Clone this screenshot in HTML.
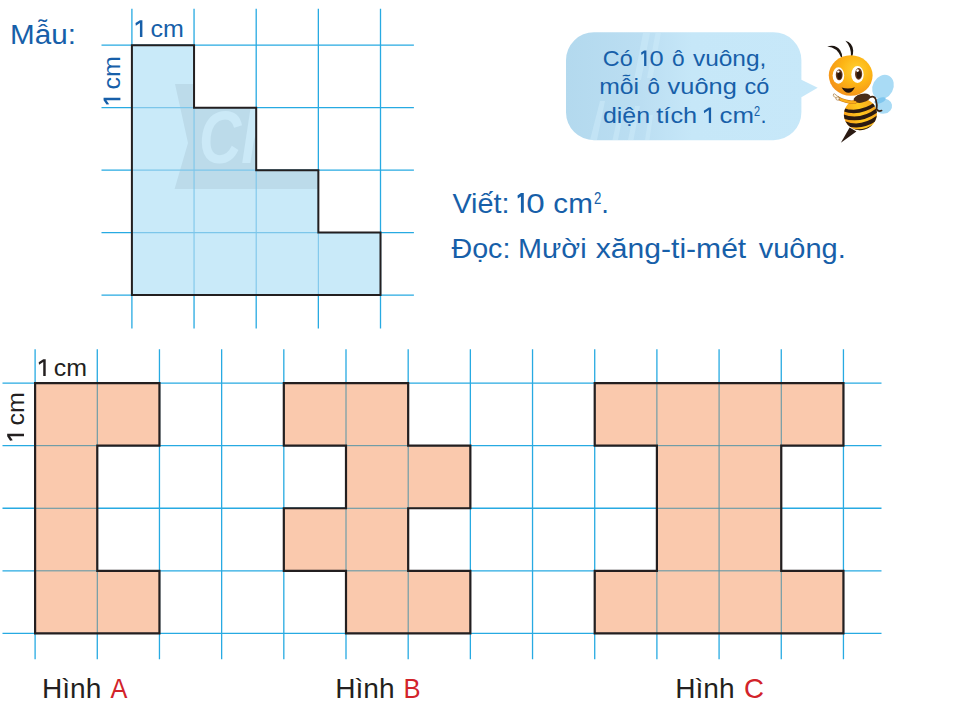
<!DOCTYPE html>
<html lang="vi"><head><meta charset="utf-8"><title>Hinh</title>
<style>html,body{margin:0;padding:0;background:#fff}body{width:960px;height:711px;overflow:hidden}svg{display:block}text{font-family:"Liberation Sans",sans-serif}</style></head><body>
<svg width="960" height="711" viewBox="0 0 960 711">
<defs>
<clipPath id="cs"><polygon points="131.9,45.2 194.05,45.2 194.05,107.67 256.2,107.67 256.2,170.14 318.35,170.14 318.35,232.61 380.5,232.61 380.5,295.08 131.9,295.08"/></clipPath>
<clipPath id="co"><polygon points="35.1,383.1 159.46,383.1 159.46,445.68 97.28,445.68 97.28,570.84 159.46,570.84 159.46,633.42 35.1,633.42"/><polygon points="283.82,383.1 408.18,383.1 408.18,445.68 470.36,445.68 470.36,508.26 408.18,508.26 408.18,570.84 470.36,570.84 470.36,633.42 346,633.42 346,570.84 283.82,570.84 283.82,508.26 346,508.26 346,445.68 283.82,445.68"/><polygon points="594.72,383.1 843.44,383.1 843.44,445.68 781.26,445.68 781.26,570.84 843.44,570.84 843.44,633.42 594.72,633.42 594.72,570.84 656.9,570.84 656.9,445.68 594.72,445.68"/></clipPath>
</defs>
<rect width="960" height="711" fill="#fff"/>
<path d="M131.9 8.8V328.5M194.05 8.8V328.5M256.2 8.8V328.5M318.35 8.8V328.5M380.5 8.8V328.5M101.5 45.2H413.9M101.5 107.67H413.9M101.5 170.14H413.9M101.5 232.61H413.9M101.5 295.08H413.9" stroke="#27aae2" stroke-width="1.3" fill="none"/>
<polygon points="131.9,45.2 194.05,45.2 194.05,107.67 256.2,107.67 256.2,170.14 318.35,170.14 318.35,232.61 380.5,232.61 380.5,295.08 131.9,295.08" fill="#c9eaf9"/>
<g clip-path="url(#cs)">
<path d="M175 84H400V189H174.6L188 143Z" fill="#bcdbea"/>
<text x="199" y="163" font-size="74" font-style="italic" font-weight="bold" fill="#cbe9f7" textLength="78" lengthAdjust="spacingAndGlyphs">Ch</text>

<path d="M131.9 8.8V328.5M194.05 8.8V328.5M256.2 8.8V328.5M318.35 8.8V328.5M380.5 8.8V328.5M101.5 45.2H413.9M101.5 107.67H413.9M101.5 170.14H413.9M101.5 232.61H413.9M101.5 295.08H413.9" stroke="#7cc6ea" stroke-width="1.1" fill="none"/>
</g>
<polygon points="131.9,45.2 194.05,45.2 194.05,107.67 256.2,107.67 256.2,170.14 318.35,170.14 318.35,232.61 380.5,232.61 380.5,295.08 131.9,295.08" fill="none" stroke="#231f20" stroke-width="2" stroke-linejoin="miter"/>
<path d="M35.1 349.3V659.2M97.28 349.3V659.2M159.46 349.3V659.2M221.64 349.3V659.2M283.82 349.3V659.2M346 349.3V659.2M408.18 349.3V659.2M470.36 349.3V659.2M532.54 349.3V659.2M594.72 349.3V659.2M656.9 349.3V659.2M719.08 349.3V659.2M781.26 349.3V659.2M843.44 349.3V659.2M2.5 383.1H881.5M2.5 445.68H881.5M2.5 508.26H881.5M2.5 570.84H881.5M2.5 633.42H881.5" stroke="#27aae2" stroke-width="1.3" fill="none"/>
<polygon points="35.1,383.1 159.46,383.1 159.46,445.68 97.28,445.68 97.28,570.84 159.46,570.84 159.46,633.42 35.1,633.42" fill="#fac9ad"/>
<polygon points="283.82,383.1 408.18,383.1 408.18,445.68 470.36,445.68 470.36,508.26 408.18,508.26 408.18,570.84 470.36,570.84 470.36,633.42 346,633.42 346,570.84 283.82,570.84 283.82,508.26 346,508.26 346,445.68 283.82,445.68" fill="#fac9ad"/>
<polygon points="594.72,383.1 843.44,383.1 843.44,445.68 781.26,445.68 781.26,570.84 843.44,570.84 843.44,633.42 594.72,633.42 594.72,570.84 656.9,570.84 656.9,445.68 594.72,445.68" fill="#fac9ad"/>
<g clip-path="url(#co)">
<path d="M35.1 349.3V659.2M97.28 349.3V659.2M159.46 349.3V659.2M221.64 349.3V659.2M283.82 349.3V659.2M346 349.3V659.2M408.18 349.3V659.2M470.36 349.3V659.2M532.54 349.3V659.2M594.72 349.3V659.2M656.9 349.3V659.2M719.08 349.3V659.2M781.26 349.3V659.2M843.44 349.3V659.2M2.5 383.1H881.5M2.5 445.68H881.5M2.5 508.26H881.5M2.5 570.84H881.5M2.5 633.42H881.5" stroke="#5494a6" stroke-width="1.0" fill="none"/>
</g>
<polygon points="35.1,383.1 159.46,383.1 159.46,445.68 97.28,445.68 97.28,570.84 159.46,570.84 159.46,633.42 35.1,633.42" fill="none" stroke="#231f20" stroke-width="2.2" stroke-linejoin="miter"/>
<polygon points="283.82,383.1 408.18,383.1 408.18,445.68 470.36,445.68 470.36,508.26 408.18,508.26 408.18,570.84 470.36,570.84 470.36,633.42 346,633.42 346,570.84 283.82,570.84 283.82,508.26 346,508.26 346,445.68 283.82,445.68" fill="none" stroke="#231f20" stroke-width="2.2" stroke-linejoin="miter"/>
<polygon points="594.72,383.1 843.44,383.1 843.44,445.68 781.26,445.68 781.26,570.84 843.44,570.84 843.44,633.42 594.72,633.42 594.72,570.84 656.9,570.84 656.9,445.68 594.72,445.68" fill="none" stroke="#231f20" stroke-width="2.2" stroke-linejoin="miter"/>
<defs><linearGradient id="gbub" x1="0" y1="0" x2="1" y2="0"><stop offset="0" stop-color="#b3d9ee"/><stop offset="0.3" stop-color="#bbdef2"/><stop offset="0.5" stop-color="#c6e7f8"/><stop offset="1" stop-color="#c7e8f9"/></linearGradient></defs>
<path d="M594 32.2H773.4a28 28 0 0 1 28 28V79.8L817.7 87.7L801.4 97.3V112.2a28 28 0 0 1 -28 28H594a28 28 0 0 1 -28 -28V60.2a28 28 0 0 1 28 -28Z" fill="url(#gbub)"/>
<g fill="#cdebfa" opacity="0.55">
<path d="M643 33H650L641 80H634Z"/>
<path d="M655.5 33H661L652.5 78H647Z"/>
<path d="M600 101H605L597 140H590Z"/>
<path d="M618 115H623L618 140H612.5Z"/>
<path d="M635 106H640L633.5 140H628Z"/>
<path d="M649 115H653L649.5 140H645Z"/>
</g>

<text transform="translate(12.10 44.2) scale(1.059 1)" x="-2.00" y="0" font-size="28" fill="#175fa9">Mẫu:</text>
<path d="M142.40 20.17V37.00H139.93V23.01L135.85 25.76L135.50 23.12L139.93 20.17Z" fill="#175fa9"/>
<text transform="translate(151.50 37.0) scale(1.066 1)" x="-1.00" y="0" font-size="23.5" fill="#175fa9">cm</text>
<text transform="translate(452.40 212.8) scale(1.047 1)" x="0.00" y="0" font-size="27.5" fill="#175fa9">Viết:</text>
<path d="M523.80 193.11V212.80H520.91V196.43L517.85 198.55L517.50 195.43L520.91 193.11Z" fill="#175fa9"/>
<text transform="translate(527.50 212.8) scale(1.207 1)" x="-1.00" y="0" font-size="27.5" fill="#175fa9">0</text>
<text transform="translate(554.40 212.8) scale(1.079 1)" x="-1.00" y="0" font-size="27.5" fill="#175fa9">cm</text>
<text transform="translate(603.25 212.8) scale(1.000 1)" x="-2.00" y="0" font-size="27.5" fill="#175fa9">.</text>
<text transform="translate(594.00 203.9) scale(0.778 1)" x="0.00" y="0" font-size="17" fill="#175fa9">2</text>
<text transform="translate(451.50 258.2) scale(1.042 1)" x="0.00" y="0" font-size="27.5" fill="#175fa9">Đọc:</text>
<text transform="translate(520.20 258.2) scale(1.047 1)" x="-2.00" y="0" font-size="27.5" fill="#175fa9">Mười</text>
<text transform="translate(595.80 258.2) scale(1.094 1)" x="0.00" y="0" font-size="27.5" fill="#175fa9">xăng-ti-mét</text>
<text transform="translate(758.70 258.2) scale(1.054 1)" x="0.00" y="0" font-size="27.5" fill="#175fa9">vuông.</text>
<text transform="translate(603.90 66.1) scale(1.073 1)" x="-1.00" y="0" font-size="21.8" fill="#175fa9">Có</text>
<path d="M646.40 50.49V66.10H644.11V53.12L641.45 54.99L641.10 52.56L644.11 50.49Z" fill="#175fa9"/>
<text transform="translate(649.60 66.1) scale(1.167 1)" x="0.00" y="0" font-size="21.8" fill="#175fa9">0</text>
<text transform="translate(672.10 66.1) scale(1.042 1)" x="0.00" y="0" font-size="21.8" fill="#175fa9">ô</text>
<text transform="translate(692.90 66.1) scale(1.123 1)" x="0.00" y="0" font-size="21.8" fill="#175fa9">vuông,</text>
<text transform="translate(600.30 94.4) scale(1.136 1)" x="-1.00" y="0" font-size="21.8" fill="#175fa9">mỗi</text>
<text transform="translate(647.40 94.4) scale(1.025 1)" x="0.00" y="0" font-size="21.8" fill="#175fa9">ô</text>
<text transform="translate(667.60 94.4) scale(1.165 1)" x="0.00" y="0" font-size="21.8" fill="#175fa9">vuông</text>
<text transform="translate(744.40 94.4) scale(1.079 1)" x="0.00" y="0" font-size="21.8" fill="#175fa9">có</text>
<text transform="translate(602.90 123.1) scale(1.145 1)" x="0.00" y="0" font-size="21.8" fill="#175fa9">diện</text>
<text transform="translate(656.30 123.1) scale(1.164 1)" x="0.00" y="0" font-size="21.8" fill="#175fa9">tích</text>
<path d="M711.10 107.49V123.10H708.81V110.12L704.15 113.23L703.80 110.80L708.81 107.49Z" fill="#175fa9"/>
<text transform="translate(719.60 123.1) scale(1.186 1)" x="0.00" y="0" font-size="21.8" fill="#175fa9">cm</text>
<text transform="translate(761.50 123.1) scale(1.000 1)" x="-1.00" y="0" font-size="21.8" fill="#175fa9">.</text>
<text transform="translate(753.90 115.7) scale(0.788 1)" x="0.00" y="0" font-size="14" fill="#175fa9">2</text>
<path d="M45.70 359.17V376.00H43.23V362.01L39.05 364.82L38.70 362.18L43.23 359.17Z" fill="#231f20"/>
<text transform="translate(54.90 376) scale(1.062 1)" x="-1.00" y="0" font-size="23.5" fill="#231f20">cm</text>
<text transform="translate(44.00 697.7) scale(1.033 1)" x="-2.00" y="0" font-size="27.2" fill="#231f20">Hình</text>
<text transform="translate(110.60 697.7) scale(0.932 1)" x="0.00" y="0" font-size="27.2" fill="#d2232a">A</text>
<text transform="translate(337.30 697.7) scale(1.033 1)" x="-2.00" y="0" font-size="27.2" fill="#231f20">Hình</text>
<text transform="translate(405.50 697.7) scale(0.940 1)" x="-2.00" y="0" font-size="27.2" fill="#d2232a">B</text>
<text transform="translate(677.30 697.7) scale(1.033 1)" x="-2.00" y="0" font-size="27.2" fill="#231f20">Hình</text>
<text transform="translate(744.90 697.7) scale(1.017 1)" x="-1.00" y="0" font-size="27.2" fill="#d2232a">C</text>
<g transform="translate(120.4 104.6) rotate(-90)" fill="#175fa9"><path d="M6.90 -16.83V0.00H4.43V-13.99L0.35 -11.24L0.00 -13.88L4.43 -16.83Z" fill="#175fa9"/><text transform="translate(16.2 0) scale(1.066 1)" x="-1.00" font-size="23.5">cm</text></g>
<g transform="translate(24.0 440.7) rotate(-90)" fill="#231f20"><path d="M6.90 -16.83V0.00H4.43V-13.99L0.35 -11.24L0.00 -13.88L4.43 -16.83Z" fill="#231f20"/><text transform="translate(16.2 0) scale(1.066 1)" x="-1.00" font-size="23.5">cm</text></g>
<defs>
<radialGradient id="gh" cx="0.62" cy="0.36" r="0.75"><stop offset="0" stop-color="#ffd033"/><stop offset="0.45" stop-color="#fdb515"/><stop offset="1" stop-color="#f28a1a"/></radialGradient>
<linearGradient id="gb" x1="0" y1="0" x2="1" y2="0"><stop offset="0" stop-color="#f9a01b"/><stop offset="0.5" stop-color="#ffc81e"/><stop offset="1" stop-color="#f7a51c"/></linearGradient>
<clipPath id="cb"><ellipse cx="860.4" cy="114.2" rx="16.6" ry="15.8" transform="rotate(-18 860.4 114.2)"/></clipPath>
</defs>
<g>
<!-- wings -->
<ellipse cx="883" cy="87" rx="10.3" ry="12.6" transform="rotate(28 883 87)" fill="#a9dbf5"/>
<ellipse cx="883.5" cy="106.3" rx="8.6" ry="7.4" transform="rotate(-10 883.5 106.3)" fill="#a9dbf5"/>
<ellipse cx="880" cy="100.5" rx="6" ry="2.6" transform="rotate(-20 880 100.5)" fill="#7fc6ee"/>
<!-- stinger -->
<path d="M849.6 127.6L840.9 142.8L856.4 131.6Z" fill="#2a1a12"/>
<!-- body -->
<ellipse cx="860.4" cy="114.2" rx="16.6" ry="15.8" transform="rotate(-18 860.4 114.2)" fill="url(#gb)"/>
<g clip-path="url(#cb)" fill="none" stroke="#2b1b12" stroke-linecap="butt">
<path d="M843 109.5Q860 116 879 101.5" stroke-width="3.4"/>
<path d="M842 116Q861 123.5 880 108" stroke-width="3.8"/>
<path d="M843 122.5Q862 131 881 115" stroke-width="4"/>
<path d="M845 131.5Q864 138.5 882 124" stroke-width="9"/>
</g>
<!-- right arm -->
<path d="M869.5 97.5Q874.5 95.2 875.8 99.5Q877.4 105 876.6 109.2Q878.5 112 881.6 110.6" fill="none" stroke="#3a2314" stroke-width="1.7" stroke-linecap="round"/>
<!-- collar -->
<ellipse cx="862" cy="98.2" rx="8.6" ry="4.3" transform="rotate(-14 862 98.2)" fill="#4a2c17"/>
<!-- left arm -->
<path d="M855 102.4Q846 102.6 837.4 97.8" fill="none" stroke="#c9781a" stroke-width="3.4" stroke-linecap="round"/>
<path d="M855 102.4Q846 102.6 837.4 97.8" fill="none" stroke="#fbb01c" stroke-width="2.3" stroke-linecap="round"/>
<path d="M838.6 98.6L834.3 95.1" fill="none" stroke="#8a5a2a" stroke-width="2.9" stroke-linecap="round"/>
<path d="M838.6 98.6L834.3 95.1" fill="none" stroke="#fff6e0" stroke-width="2.0" stroke-linecap="round"/>
<circle cx="837.6" cy="98.6" r="1.6" fill="#fff6e0" stroke="#8a5a2a" stroke-width="0.5"/>
<!-- antennae -->
<path d="M841.2 57.6Q837.5 47.2 827.2 46.4Q835.8 43.8 840.2 50.2Q842.2 53.6 842.2 57.2Z" fill="#1d1510"/>
<path d="M851 56.2Q851.2 46.6 845.4 40.8Q852.6 42.6 853.2 50.6Q853.2 54 852.2 56.4Z" fill="#1d1510"/>
<!-- head -->
<ellipse cx="850.7" cy="75.5" rx="21.9" ry="20.3" fill="url(#gh)"/>
<!-- eyes -->
<ellipse cx="838.4" cy="75.5" rx="5.8" ry="8.2" fill="#fff"/>
<ellipse cx="857.5" cy="74.6" rx="6.2" ry="8.5" fill="#fff"/>
<ellipse cx="839.2" cy="74.8" rx="3.4" ry="5.5" fill="#6a3a1b"/>
<ellipse cx="858.6" cy="73.9" rx="3.6" ry="5.8" fill="#6a3a1b"/>
<ellipse cx="839.4" cy="75.6" rx="2.1" ry="3.6" fill="#2c170c"/>
<ellipse cx="858.8" cy="74.8" rx="2.2" ry="3.8" fill="#2c170c"/>
<circle cx="838.3" cy="71.6" r="1.2" fill="#fff"/>
<circle cx="857.6" cy="70.6" r="1.3" fill="#fff"/>
<!-- mouth -->
<path d="M841.6 87.4Q848.2 89.6 854.9 87.2Q852 92.8 848.4 92.8Q844.8 92.6 841.6 87.4Z" fill="#22140d"/>
</g>

</svg></body></html>
